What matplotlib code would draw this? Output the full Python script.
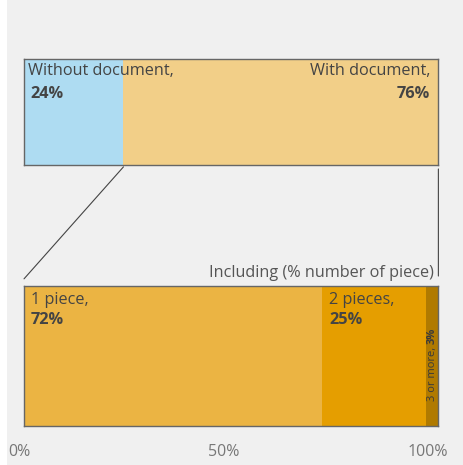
import matplotlib
matplotlib.use("Agg")
import matplotlib.pyplot as plt
from matplotlib.patches import Rectangle, ConnectionPatch
from matplotlib.transforms import ScaledTranslation

plt.rcParams['font.family'] = ['Open Sans', 'DejaVu Sans']

# share of items with / without a document
top_labels = ['Without document,', 'With document,']
top_values = [24, 76]
top_colors = ['#aedcf2', '#f2cf88']

# among items with a document: number of pieces
piece_labels = ['1 piece,', '2 pieces,', '3 or more,']
piece_values = [72, 25, 3]
piece_colors = ['#ebb443', '#e59e00', '#b07a00']

tick_pos = [0, 50, 100]
tick_labels = ['0%', '50%', '100%']
sub_title = 'Including (% number of piece)'

W, H = 463, 465
fig = plt.figure(figsize=((W + 0.4) / 100, (H + 0.4) / 100), dpi=100)
fig.patch.set_facecolor('#f0f0f0')
fig.patches.append(Rectangle((0, 0), 7 / W, 1, transform=fig.transFigure,
                             facecolor='white', edgecolor='none', zorder=-10))


def px_axes(x0, y0, x1, y1):
    # axes placed by pixel box (top-left origin)
    return fig.add_axes([x0 / W, 1 - y1 / H, (x1 - x0) / W, (y1 - y0) / H])


ax1 = px_axes(24, 59, 438, 165)
ax2 = px_axes(24, 286, 438, 426)

text_col = '#444444'
fs = 11.7
for ax in (ax1, ax2):
    ax.set_xlim(0, 100)
    ax.set_ylim(0, 1)
    ax.set_yticks([])
    for s in ax.spines.values():
        s.set_color('#666666')
        s.set_linewidth(1.0)

# top bar
left = 0
for v, c in zip(top_values, top_colors):
    ax1.barh(0.5, v, left=left, height=1, color=c, linewidth=0)
    left += v
ax1.set_xticks([])

ax1.text(1, 0.96, top_labels[0], ha='left', va='top', fontsize=fs, color=text_col)
ax1.text(1.6, 0.75, f'{top_values[0]}%', ha='left', va='top', fontsize=fs,
         fontweight='bold', color=text_col)
ax1.text(98, 0.96, top_labels[1], ha='right', va='top', fontsize=fs, color=text_col)
ax1.text(98, 0.75, f'{top_values[1]}%', ha='right', va='top', fontsize=fs,
         fontweight='bold', color=text_col)

# bottom bar
left = 0
starts = []
for v, c in zip(piece_values, piece_colors):
    ax2.barh(0.5, v, left=left, height=1, color=c, linewidth=0)
    starts.append(left)
    left += v

for i in range(2):
    ax2.text(starts[i] + 1.6, 0.96, piece_labels[i], ha='left', va='top',
             fontsize=fs, color=text_col)
    ax2.text(starts[i] + 1.6, 0.815, f'{piece_values[i]}%', ha='left', va='top',
             fontsize=fs, fontweight='bold', color=text_col)

xs = starts[2] + piece_values[2] / 2
t3 = ax2.text(xs, 0.18, piece_labels[2] + ' ', rotation=90, ha='center',
              va='bottom', fontsize=8, color='#3a3a3a')
ax2.annotate(f'{piece_values[2]}%', xy=(0.5, 1), xycoords=t3, rotation=90,
             ha='center', va='bottom', fontsize=8, fontweight='bold',
             color='#3a3a3a')

ax2.text(99, 1.04, sub_title, ha='right', va='bottom', fontsize=fs,
         color='#555555')

ax2.set_xticks(tick_pos)
ax2.set_xticklabels(tick_labels, fontsize=11.5, color='#777777')
ax2.tick_params(axis='x', length=0, pad=13)
for lab, dx in zip(ax2.get_xticklabels(), [-5, -8, -11]):
    lab.set_transform(lab.get_transform() + ScaledTranslation(dx / 100, 0, fig.dpi_scale_trans))

# connector lines between the two bars
split = top_values[0]
con1 = ConnectionPatch(xyA=(split, -0.02), coordsA=ax1.get_xaxis_transform(),
                       xyB=(0, 1.05), coordsB=ax2.get_xaxis_transform(),
                       color='#444444', linewidth=0.8)
con2 = ConnectionPatch(xyA=(100, -0.04), coordsA=ax1.get_xaxis_transform(),
                       xyB=(100, 1.07), coordsB=ax2.get_xaxis_transform(),
                       color='#444444', linewidth=0.8)
fig.add_artist(con1)
fig.add_artist(con2)

fig.savefig('out.png', dpi=100, facecolor=fig.get_facecolor())
